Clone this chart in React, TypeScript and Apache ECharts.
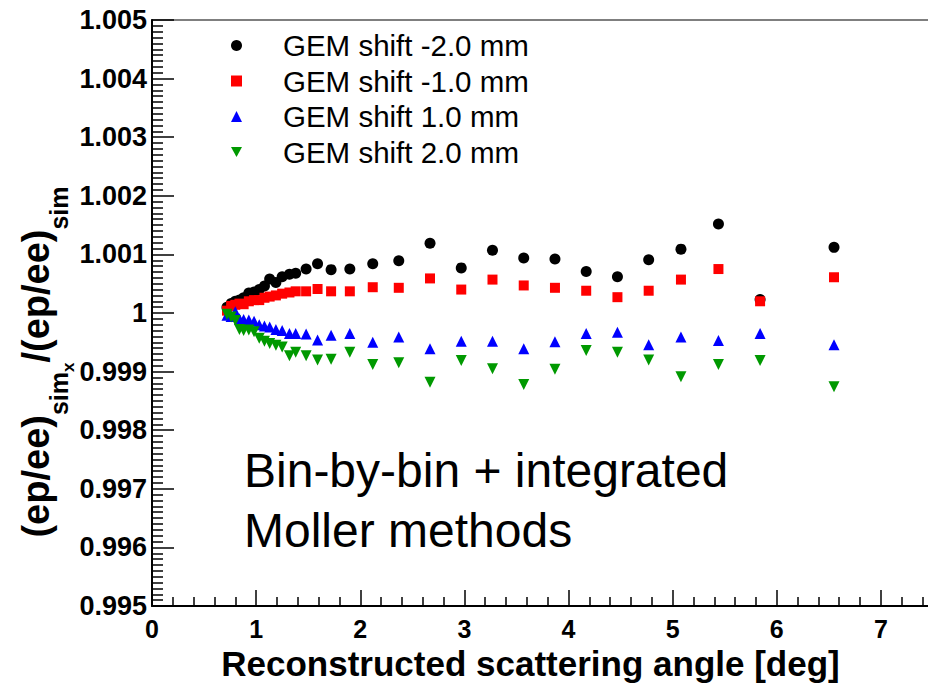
import React, { useEffect, useRef } from "react";
import * as echarts from "echarts";

const angles = [0.72, 0.76, 0.8, 0.84, 0.88, 0.93, 0.98, 1.03, 1.08, 1.13, 1.19, 1.25, 1.32, 1.38, 1.48, 1.59, 1.72, 1.9, 2.12, 2.37, 2.67, 2.97, 3.27, 3.57, 3.87, 4.17, 4.47, 4.77, 5.08, 5.44, 5.84, 6.55];

const shiftM2 = [1.0001, 1.00016, 1.0002, 1.00022, 1.00026, 1.00034, 1.00036, 1.0004, 1.00046, 1.00058, 1.00052, 1.00062, 1.00066, 1.00068, 1.00075, 1.00084, 1.00074, 1.00075, 1.00084, 1.00089, 1.00119, 1.00077, 1.00107, 1.00094, 1.00092, 1.00071, 1.00062, 1.00091, 1.00109, 1.00152, 1.00023, 1.00112];
const shiftM1 = [1.00004, 1.00012, 1.00014, 1.00016, 1.00015, 1.0002, 1.00022, 1.00022, 1.00026, 1.00028, 1.0003, 1.00033, 1.00035, 1.00037, 1.00037, 1.00041, 1.00037, 1.00037, 1.00044, 1.00043, 1.00059, 1.0004, 1.00057, 1.00047, 1.00043, 1.00038, 1.00027, 1.00038, 1.00057, 1.00075, 1.0002, 1.00061];
const shiftP1 = [0.99996, 0.99994, 1.00002, 0.9999, 0.99989, 0.99988, 0.99986, 0.9998, 0.99978, 0.99976, 0.99972, 0.9997, 0.99965, 0.99965, 0.99964, 0.99954, 0.99962, 0.99965, 0.9995, 0.99959, 0.99939, 0.99952, 0.99952, 0.99939, 0.99951, 0.99965, 0.99967, 0.99946, 0.99959, 0.99953, 0.99965, 0.99946];
const shiftP2 = [0.99998, 0.99993, 0.99987, 0.99972, 0.9997, 0.99971, 0.99968, 0.99957, 0.99952, 0.99948, 0.99945, 0.99942, 0.99927, 0.99933, 0.99927, 0.9992, 0.99921, 0.99933, 0.99912, 0.99915, 0.99882, 0.99919, 0.99905, 0.99878, 0.99904, 0.99936, 0.99933, 0.9992, 0.99891, 0.99912, 0.99919, 0.99874];

const seriesNames = ["GEM shift -2.0 mm", "GEM shift -1.0 mm", "GEM shift 1.0 mm", "GEM shift 2.0 mm"];
const seriesValues = [shiftM2, shiftM1, shiftP1, shiftP2];
const seriesColors = ["#000000", "#ff0000", "#0000ff", "#009900"];
const seriesSymbols = ["circle", "rect", "triangle", "path://M0,0L10,0L5,9Z"];
const seriesSizes = [11, 10, 11, 11];

const xTitle = "Reconstructed scattering angle [deg]";
const annotation = "Bin-by-bin + integrated\nMoller methods";

const FONT = "'Liberation Sans', Arial, Helvetica, sans-serif";

export default function App() {
  const ref = useRef<HTMLDivElement>(null);
  useEffect(() => {
    if (!ref.current) return;
    const chart = echarts.init(ref.current, null, { renderer: "svg" });
    const series = seriesNames.map((name, i) => ({
      name,
      type: "scatter",
      symbol: seriesSymbols[i],
      symbolSize: seriesSizes[i],
      itemStyle: { color: seriesColors[i], opacity: 1 },
      data: angles.map((a, j) => [a, seriesValues[i][j]]),
      z: 2 + i,
    }));
    chart.setOption({
      animation: false,
      backgroundColor: "#ffffff",
      textStyle: { fontFamily: FONT },
      grid: {
        left: 152,
        top: 20,
        right: -57,
        bottom: 78,
        outerBoundsMode: "none",
        containLabel: false,
        show: true,
        borderColor: "#555555",
        borderWidth: 1.5,
        backgroundColor: "#ffffff",
      },
      legend: {
        orient: "vertical",
        left: 226,
        top: 25,
        itemWidth: 11,
        itemHeight: 11,
        itemGap: 4.5,
        data: seriesNames,
        textStyle: {
          fontSize: 29.5,
          fontFamily: FONT,
          color: "#000",
          lineHeight: 31,
          padding: [0, 0, 0, 36],
        },
      },
      xAxis: {
        type: "value",
        min: 0,
        max: 8,
        interval: 1,
        name: xTitle,
        nameLocation: "middle",
        nameGap: 38,
        nameTextStyle: {
          fontSize: 35,
          fontWeight: "bold",
          color: "#000",
          fontFamily: FONT,
          padding: [0, 76, 0, 0],
        },
        axisLine: { show: true, lineStyle: { color: "#000", width: 2 } },
        axisTick: { show: true, inside: true, length: 16, lineStyle: { color: "#000", width: 1.5 } },
        minorTick: { show: true, splitNumber: 5, length: 9, lineStyle: { color: "#000", width: 1.5 } },
        splitLine: { show: false },
        axisLabel: {
          fontSize: 25,
          fontWeight: "bold",
          color: "#000",
          margin: 10,
          fontFamily: FONT,
          showMaxLabel: false,
          formatter: (v: number) => (v > 7.5 ? "" : String(v)),
        },
      },
      yAxis: {
        type: "value",
        min: 0.995,
        max: 1.005,
        interval: 0.001,
        axisLine: { show: true, lineStyle: { color: "#000", width: 2 } },
        axisTick: { show: true, inside: true, length: 22, lineStyle: { color: "#000", width: 1.5 } },
        minorTick: { show: true, splitNumber: 10, length: 11, lineStyle: { color: "#000", width: 1.5 } },
        splitLine: { show: false },
        axisLabel: {
          fontSize: 27,
          fontWeight: "bold",
          color: "#000",
          margin: 5,
          fontFamily: FONT,
          formatter: (v: number) => String(+v.toFixed(3)),
        },
      },
      graphic: [
        {
          type: "text",
          x: 38,
          y: 362,
          rotation: Math.PI / 2,
          style: {
            text: "{a|(ep/ee)}{b|sim}{c|x}{a|/(ep/ee)}{b|sim}",
            align: "center",
            verticalAlign: "middle",
            fill: "#000",
            rich: {
              a: { fontSize: 38, fontWeight: "bold", fontFamily: FONT, lineHeight: 42, verticalAlign: "top", fill: "#000" },
              b: { fontSize: 25, fontWeight: "bold", fontFamily: FONT, lineHeight: 25, verticalAlign: "top", padding: [29, 0, 0, 0], fill: "#000" },
              c: { fontSize: 17, fontWeight: "bold", fontFamily: FONT, lineHeight: 17, verticalAlign: "top", padding: [43, 0, 0, 0], fill: "#000" },
            },
          },
        },
        {
          type: "text",
          left: 244,
          top: 440,
          style: {
            text: annotation,
            fontSize: 48,
            lineHeight: 60,
            fontFamily: FONT,
            fill: "#000",
          },
        },
      ],
      series,
    });
    return () => chart.dispose();
  }, []);
  return <div ref={ref} style={{ position: "absolute", left: 0, top: 0, width: 928, height: 684 }} />;
}
